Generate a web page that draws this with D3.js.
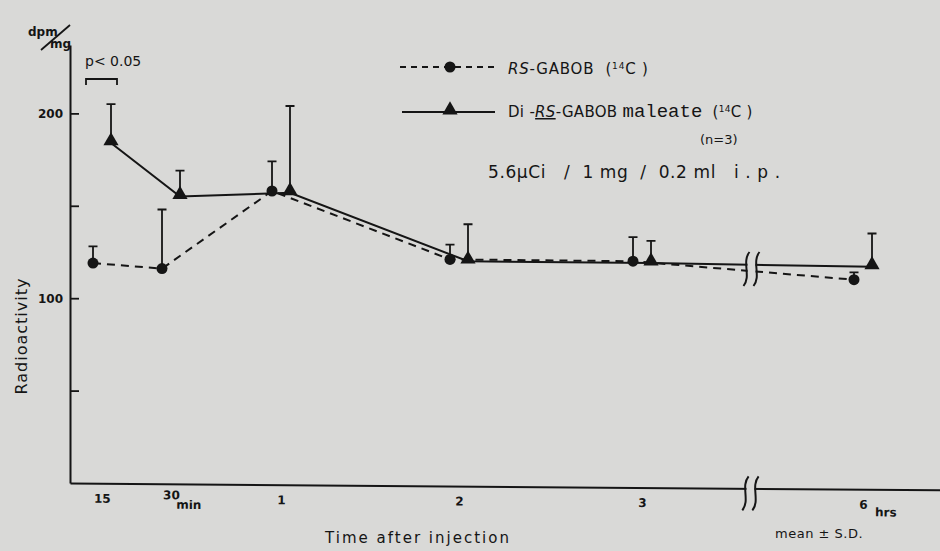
<!DOCTYPE html>
<html>
<head>
<meta charset="utf-8">
<script src="https://cdn.jsdelivr.net/npm/d3@7"></script>
<style>
  body { margin: 0; background: #d9d9d7; }
  text { font-family: "DejaVu Sans", sans-serif; fill: #151515; }
</style>
</head>
<body>
<div id="chart"></div>
<script>
// time points (hours) and their printed labels
const timeHours = [0.25, 0.5, 1, 2, 3, 6];
const timeLabels = ["15", "30", "1", "2", "3", "6"];

// RS-GABOB (14C), mean and SD
const rsMean = [119, 116, 158, 121, 120, 110];
const rsSD = [9, 32, 16, 8, 13, 4];

// Di-RS-GABOB maleate (14C), mean and SD
const diMean = [184, 155, 157, 120, 119, 117];
const diSD = [21, 14, 47, 20, 12, 18];

const yTicks = [50, 100, 150, 200];

const width = 940, height = 551;
const ink = "#151515", paper = "#d9d9d7";

const svg = d3.select("#chart").append("svg")
    .attr("width", width)
    .attr("height", height);

svg.append("rect").attr("width", width).attr("height", height).attr("fill", paper);

// x axis is not linear in the original, so use a piecewise scale
const x = d3.scaleLinear()
    .domain([0, 0.25, 0.5, 1, 2, 3, 6, 6.4])
    .range([70, 102, 171, 281, 459, 642, 863, 940]);

const y = d3.scaleLinear()
    .domain([0, 237])
    .range([483, 45]);

// y axis
const yAxis = d3.axisLeft(y)
    .tickValues(yTicks)
    .tickSize(-9)
    .tickSizeOuter(0)
    .tickPadding(7)
    .tickFormat(d => d % 100 === 0 ? d : "");

const gy = svg.append("g")
    .attr("transform", "translate(70,0)")
    .call(yAxis);
gy.select(".domain").attr("stroke", ink).attr("stroke-width", 2);
gy.selectAll(".tick line").attr("stroke", ink).attr("stroke-width", 1.8);
gy.selectAll(".tick text").attr("font-size", 12).attr("font-weight", "bold").attr("fill", ink);

// x axis (scan is slightly tilted)
const xAxis = d3.axisBottom(x)
    .tickValues(timeHours)
    .tickSize(0)
    .tickSizeOuter(0)
    .tickPadding(11)
    .tickFormat((d, i) => timeLabels[i]);

const gx = svg.append("g")
    .attr("transform", "translate(0,483) rotate(0.45,70,0)")
    .call(xAxis);
gx.select(".domain").attr("stroke", ink).attr("stroke-width", 2);
gx.selectAll(".tick text").attr("font-size", 12).attr("font-weight", "bold").attr("fill", ink);
// "30" sits a little higher, next to "min"
gx.selectAll(".tick text").filter(d => d === 0.5).attr("y", 7);

gx.append("text").attr("x", x(0.5) + 18).attr("y", 25)
    .attr("font-size", 12).attr("font-weight", "bold").text("min");
gx.append("text").attr("x", x(6) + 23).attr("y", 27)
    .attr("font-size", 12).attr("font-weight", "bold").text("hrs");

// break symbol helper
function drawBreak(g, cx, top, bottom) {
    g.append("rect")
        .attr("x", cx - 4).attr("y", top + 8)
        .attr("width", 8).attr("height", bottom - top - 16)
        .attr("fill", paper);
    [-5, 5].forEach(off => {
        const bx = cx + off;
        g.append("path")
            .attr("d", `M${bx + 3},${top} C${bx - 5},${top + 10} ${bx + 5},${bottom - 10} ${bx - 3},${bottom}`)
            .attr("fill", "none")
            .attr("stroke", ink)
            .attr("stroke-width", 2);
    });
}

drawBreak(gx, x(4.5) - 2, -12, 22);

// series
const series = [
    {mean: rsMean, sd: rsSD, dx: -9, dash: "8,6", marker: "circle"},
    {mean: diMean, sd: diSD, dx: 9, dash: null, marker: "triangle"}
];

const plot = svg.append("g");

series.forEach(s => {
    const line = d3.line()
        .x((d, i) => x(timeHours[i]) + s.dx)
        .y(d => y(d));

    plot.append("path")
        .datum(s.mean)
        .attr("d", line)
        .attr("fill", "none")
        .attr("stroke", ink)
        .attr("stroke-width", 2)
        .attr("stroke-dasharray", s.dash);
});

// break on the data lines
drawBreak(plot, x(4.5) - 1, 252, 286);

series.forEach(s => {
    const pts = s.mean.map((m, i) => ({cx: x(timeHours[i]) + s.dx, m: m, sd: s.sd[i]}));

    // error bars, upward only
    plot.selectAll(null)
        .data(pts)
        .enter()
        .append("path")
        .attr("d", d => `M${d.cx},${y(d.m)} V${y(d.m + d.sd)} M${d.cx - 4.5},${y(d.m + d.sd)} H${d.cx + 4.5}`)
        .attr("fill", "none")
        .attr("stroke", ink)
        .attr("stroke-width", 1.8);

    if (s.marker === "circle") {
        plot.selectAll(null)
            .data(pts)
            .enter()
            .append("circle")
            .attr("cx", d => d.cx)
            .attr("cy", d => y(d.m))
            .attr("r", 5.5)
            .attr("fill", ink);
    } else {
        plot.selectAll(null)
            .data(pts)
            .enter()
            .append("path")
            .attr("d", d3.symbol(d3.symbolTriangle, 100))
            .attr("transform", d => `translate(${d.cx},${y(d.m) - 2})`)
            .attr("fill", ink);
    }
});

// legend
const leg = svg.append("g");
leg.append("line").attr("x1", 400).attr("x2", 497).attr("y1", 67).attr("y2", 67)
    .attr("stroke", ink).attr("stroke-width", 1.8).attr("stroke-dasharray", "6,5");
leg.append("circle").attr("cx", 450).attr("cy", 67).attr("r", 5.5).attr("fill", ink);
leg.append("line").attr("x1", 402).attr("x2", 495).attr("y1", 112).attr("y2", 112)
    .attr("stroke", ink).attr("stroke-width", 1.8);
leg.append("path").attr("d", d3.symbol(d3.symbolTriangle, 100))
    .attr("transform", "translate(450,110)").attr("fill", ink);

const t1 = leg.append("text").attr("x", 508).attr("y", 74)
    .attr("font-size", 15).attr("letter-spacing", 0.8).attr("xml:space", "preserve");
t1.append("tspan").attr("font-style", "italic").text("RS");
t1.append("tspan").text("-GABOB  (");
t1.append("tspan").attr("font-size", 9).attr("dy", -5).text("14");
t1.append("tspan").attr("dy", 5).text("C )");

const t2 = leg.append("text").attr("x", 508).attr("y", 117)
    .attr("font-size", 15).attr("letter-spacing", 0.3).attr("xml:space", "preserve");
t2.append("tspan").text("Di -");
t2.append("tspan").attr("font-style", "italic").attr("text-decoration", "underline").text("RS");
t2.append("tspan").text("-GABOB ");
t2.append("tspan").attr("font-family", "Liberation Mono, monospace").attr("font-size", 19)
    .attr("letter-spacing", 0).text("maleate");
t2.append("tspan").text("  (");
t2.append("tspan").attr("font-size", 9).attr("dy", -5).text("14");
t2.append("tspan").attr("dy", 5).text("C )");

leg.append("text").attr("x", 700).attr("y", 144).attr("font-size", 13).text("(n=3)");
leg.append("text").attr("x", 488).attr("y", 178).attr("font-size", 17)
    .attr("letter-spacing", 0.6)
    .attr("xml:space", "preserve")
    .text("5.6\u00b5Ci   /  1 mg  /  0.2 ml   i . p .");

// p value bracket
svg.append("text").attr("x", 85).attr("y", 66).attr("font-size", 14)
    .attr("xml:space", "preserve").text("p< 0.05");
svg.append("path").attr("d", "M86,85 V79 H117 V85")
    .attr("fill", "none").attr("stroke", ink).attr("stroke-width", 1.8);

// axis titles
svg.append("text").attr("x", 28).attr("y", 36).attr("font-size", 12).attr("font-weight", "bold").text("dpm");
svg.append("text").attr("x", 50).attr("y", 48).attr("font-size", 12).attr("font-weight", "bold").text("mg");
svg.append("line").attr("x1", 41).attr("y1", 50).attr("x2", 70).attr("y2", 25)
    .attr("stroke", ink).attr("stroke-width", 1.8);

svg.append("text")
    .attr("transform", "translate(27,336) rotate(-90)")
    .attr("text-anchor", "middle")
    .attr("font-size", 16)
    .attr("letter-spacing", 1)
    .text("Radioactivity");

svg.append("text").attr("x", 418).attr("y", 543).attr("text-anchor", "middle")
    .attr("font-size", 15).attr("letter-spacing", 2).text("Time after injection");

svg.append("text").attr("x", 775).attr("y", 538).attr("font-size", 13)
    .attr("letter-spacing", 0.5).text("mean \u00b1 S.D.");
</script>
</body>
</html>
